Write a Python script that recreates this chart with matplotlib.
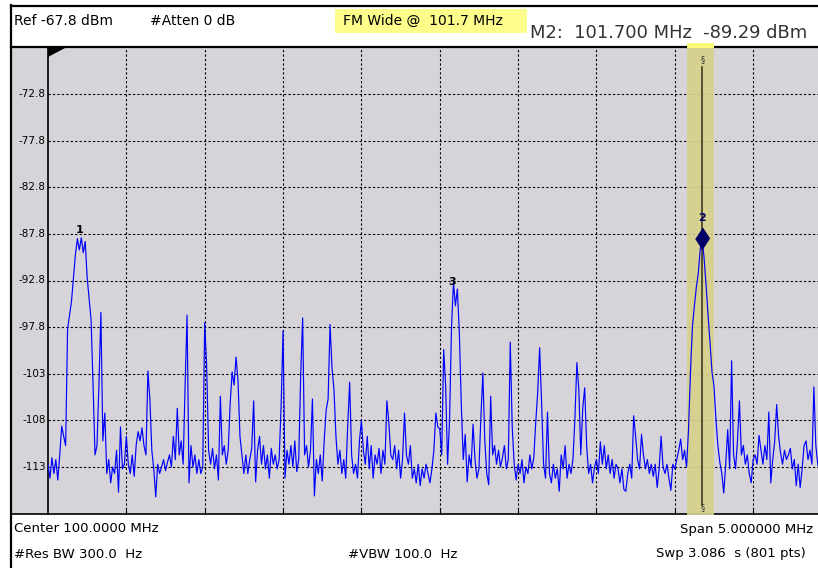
import numpy as np
import matplotlib
matplotlib.use("Agg")
import matplotlib.pyplot as plt
import matplotlib.transforms as mtransforms
from matplotlib.patches import Rectangle, Polygon

plt.rcParams['font.family'] = ['DejaVu Sans']

# analyzer settings
center_mhz = 100.0
span_mhz = 5.0
ref_dbm = -67.8
db_per_div = 5.0
n_div = 10

# trace, 401 points across the span
trace_dbm = [
    -112.5, -114.0, -111.8, -113.5, -112.0, -114.2, -111.5, -108.4, -109.5, -110.5,
    -98.0, -96.5, -95.0, -92.5, -90.0, -88.3, -89.5, -88.2, -89.8, -88.6,
    -92.5, -94.8, -97.0, -104.0, -111.5, -110.5, -104.0, -96.2, -110.0, -107.0,
    -113.5, -112.0, -114.5, -112.8, -113.5, -111.0, -115.5, -108.5, -113.0, -112.5,
    -109.5, -112.5, -113.5, -111.5, -113.8, -110.5, -109.0, -110.0, -108.6, -110.5,
    -111.5, -102.5, -105.5, -111.0, -113.0, -116.0, -112.5, -113.5, -112.8, -112.0,
    -113.2, -112.3, -111.5, -112.8, -109.5, -112.0, -106.5, -111.5, -110.0, -112.5,
    -104.0, -96.5, -114.5, -110.5, -112.8, -111.5, -113.5, -112.0, -113.5, -112.8,
    -97.3, -102.0, -111.0, -112.5, -110.8, -113.0, -111.5, -114.2, -105.2, -111.5,
    -110.5, -112.5, -111.0, -106.0, -102.6, -104.0, -101.0, -103.5, -109.5, -111.5,
    -113.5, -111.5, -113.5, -112.0, -110.8, -105.7, -114.4, -111.0, -109.5, -112.5,
    -110.5, -113.0, -111.5, -114.0, -110.8, -112.5, -111.5, -113.0, -112.0, -106.3,
    -98.2, -114.0, -111.0, -112.5, -110.5, -112.8, -110.0, -113.3, -112.0, -103.0,
    -96.8, -111.5, -110.5, -112.8, -111.0, -105.5, -115.9, -112.0, -113.5, -111.5,
    -114.3, -110.0, -106.7, -105.5, -97.5, -102.2, -104.5, -109.5, -112.5, -111.0,
    -113.5, -112.0, -114.0, -108.4, -103.7, -111.5, -113.5, -112.5, -114.0, -110.0,
    -107.8, -111.0, -112.5, -109.5, -113.0, -110.5, -114.0, -111.5, -112.5, -110.8,
    -113.5, -111.0, -112.5, -105.7, -108.0, -111.5, -112.0, -110.5, -113.0, -111.0,
    -114.0, -112.0, -107.0, -111.5, -112.5, -110.5, -114.0, -113.0, -114.5, -112.5,
    -114.8, -113.0, -114.0, -112.5, -113.5, -114.5, -113.0, -111.0, -107.0, -108.5,
    -108.7, -111.5, -100.2, -104.0, -112.5, -107.8, -97.8, -93.0, -95.5, -93.7,
    -98.4, -106.1, -112.0, -109.3, -114.4, -111.5, -112.8, -108.2, -112.0, -114.0,
    -113.0, -107.5, -102.7, -110.0, -113.5, -114.7, -105.2, -111.5, -110.5, -112.5,
    -111.0, -112.8, -111.8, -110.5, -113.0, -112.0, -99.4, -108.5, -112.5, -114.2,
    -112.5, -113.5, -112.0, -114.5, -112.8, -113.5, -111.5, -113.0, -111.8, -108.0,
    -104.8, -100.0, -106.0, -112.5, -114.0, -106.9, -113.5, -114.5, -112.5, -114.0,
    -113.0, -115.4, -111.5, -113.0, -110.5, -114.0, -112.5, -113.5, -112.0, -107.6,
    -101.6, -104.5, -111.5, -106.5, -104.3, -110.5, -113.5, -112.5, -114.5, -112.8,
    -112.0, -113.5, -110.1, -112.5, -110.5, -113.0, -111.5, -113.5, -112.0, -114.0,
    -112.5, -113.0, -114.5, -113.0, -115.2, -115.4, -113.5, -112.5, -114.0, -107.3,
    -109.5, -112.0, -113.0, -109.3, -111.5, -113.0, -112.0, -113.5, -112.5, -113.8,
    -112.5, -115.0, -113.0, -109.5, -112.8, -113.5, -112.5, -114.0, -115.3, -112.5,
    -113.0, -112.0, -111.0, -109.8, -112.0, -111.0, -112.8, -108.8, -102.6, -97.7,
    -95.5, -93.5, -92.0, -89.4, -88.3, -90.5, -93.4, -96.6, -99.5, -102.6,
    -104.1, -107.7, -110.5, -112.3, -113.5, -115.6, -112.5, -108.8, -113.0, -101.4,
    -111.5, -113.0, -110.0, -105.7, -111.5, -110.5, -112.5, -111.5, -113.5, -114.5,
    -112.0, -111.5, -112.5, -109.4, -111.0, -112.5, -110.5, -112.0, -106.9, -114.5,
    -112.0, -110.0, -106.1, -109.5, -111.3, -112.5, -111.0, -112.0, -111.5, -110.8,
    -113.0, -112.0, -114.8, -112.5, -115.0, -113.0, -110.5, -110.0, -112.0, -111.0,
    -112.5, -104.2, -110.5, -112.5, -113.5, -111.5, -112.8, -114.0, -112.0, -113.0,
    -112.5,
]

marker_names = ['1', '2', '3']
marker_freq = [97.70, 101.675, 100.078]
marker_dbm = [-88.3, -88.2, -93.0]

ytick_vals = [-72.8, -77.8, -82.8, -87.8, -92.8, -97.8, -102.8, -107.8, -112.8]
ytick_labels = ['-72.8', '-77.8', '-82.8', '-87.8', '-92.8', '-97.8', '-103', '-108', '-113']

header_left = ['Ref -67.8 dBm', '#Atten 0 dB']
header_title = 'FM Wide @  101.7 MHz'
header_marker = 'M2:  101.700 MHz  -89.29 dBm'
footer_rows = [('Center 100.0000 MHz', 'Span 5.000000 MHz'),
               ('#Res BW 300.0  Hz', 'Swp 3.086  s (801 pts)')]
footer_mid = '#VBW 100.0  Hz'

f_start = center_mhz - span_mhz / 2
f_stop = center_mhz + span_mhz / 2
freqs = np.linspace(f_start, f_stop, len(trace_dbm))

W, H = 818, 568
fig = plt.figure(figsize=(W / 100, H / 100), dpi=100)
fig.patch.set_facecolor('white')

# background layer in pixel coordinates
bg = fig.add_axes([0, 0, 1, 1])
bg.set_xlim(0, W)
bg.set_ylim(H, 0)
bg.axis('off')
gray = '#d6d4d8'
bg.add_patch(Rectangle((12, 47), W - 12, 466.5, facecolor=gray, edgecolor='none'))
bg.plot([11, W], [5.5, 5.5], color='black', lw=1.6)
bg.plot([11, 11], [5, H], color='black', lw=1.6)
bg.plot([11, W], [46.5, 46.5], color='black', lw=1.6)
bg.plot([11, W], [513.8, 513.8], color='black', lw=1.2)

hs = 10
bg.text(14, 21, header_left[0], fontsize=hs, va='center', ha='left')
bg.text(150, 21, header_left[1], fontsize=hs, va='center', ha='left')
bg.add_patch(Rectangle((335, 9), 192, 24, facecolor='#fdfd8c', edgecolor='none'))
bg.text(343, 21, header_title, fontsize=hs, va='center', ha='left')
bg.text(530, 33, header_marker, fontsize=12.9, va='center', ha='left', color='#333333')

fs = 9.5
bg.text(14, 529, footer_rows[0][0], fontsize=fs, va='center', ha='left')
bg.text(680, 529, footer_rows[0][1], fontsize=fs, va='center', ha='left')
bg.text(14, 554, footer_rows[1][0], fontsize=fs, va='center', ha='left')
bg.text(348, 554, footer_mid, fontsize=fs, va='center', ha='left')
bg.text(656, 554, footer_rows[1][1], fontsize=fs, va='center', ha='left')

# trace area
ax_left, ax_top, ax_w, ax_h = 48, 47.7, 783.5, 465.9
ax = fig.add_axes([ax_left / W, (H - ax_top - ax_h) / H, ax_w / W, ax_h / H])
ax.set_facecolor('none')
ax.set_xlim(f_start, f_stop)
ax.set_ylim(ref_dbm - n_div * db_per_div, ref_dbm)

for s in ['top', 'right', 'bottom']:
    ax.spines[s].set_visible(False)
ax.spines['left'].set_color('black')
ax.spines['left'].set_linewidth(1.2)

div_f = [f_start + k * span_mhz / n_div for k in range(1, n_div)]
ax.set_xticks(div_f)
ax.set_xticklabels([])
ax.tick_params(axis='x', direction='in', length=4, width=0.8, color='black')
ax.set_yticks(ytick_vals)
ax.set_yticklabels(ytick_labels, fontsize=7.5)
ax.tick_params(axis='y', length=0, pad=1.5)
off = mtransforms.ScaledTranslation(0, -2 / 72, fig.dpi_scale_trans)
for lab in ax.get_yticklabels():
    lab.set_verticalalignment('baseline')
    lab.set_transform(lab.get_transform() + off)

for f in div_f:
    ax.axvline(f, color='black', lw=0.8, ls=(0, (2, 2)), zorder=1)
for v in ytick_vals:
    ax.axhline(v, color='black', lw=0.8, ls=(0, (2, 2)), zorder=1)

# marker 2 highlight band and line
m2f = marker_freq[1]
band_lo, band_hi = 101.578, 101.750
ax.axvspan(band_lo, band_hi, ymin=-0.004, ymax=1.0, color='#d6d08a', alpha=0.9,
           zorder=2, clip_on=False, lw=0)
ax.axvspan(band_lo, band_hi, ymin=1.0, ymax=1.01, color='#f8f87a', zorder=2,
           clip_on=False, lw=0)
ax.axvline(m2f, ymin=0.018, ymax=0.958, color='#2e2e14', lw=1.1, zorder=3)
ax.text(m2f, 0.975, '§', transform=ax.get_xaxis_transform(), fontsize=6,
        ha='center', va='center', color='#333333', zorder=4)
ax.text(m2f, 0.012, '§', transform=ax.get_xaxis_transform(), fontsize=6,
        ha='center', va='center', color='#333333', zorder=4, clip_on=False)

ax.plot(freqs, trace_dbm, color='#0000ff', lw=0.85, zorder=5)

# markers
for name, f, v in zip(marker_names, marker_freq, marker_dbm):
    if name == '2':
        ax.plot([f], [v], marker=[(0, 1), (0.65, 0), (0, -1), (-0.65, 0)],
                markersize=15, color='#000066', zorder=6)
        ax.annotate(name, (f, v), xytext=(0, 11), textcoords='offset points',
                    ha='center', va='bottom', fontsize=8, fontweight='bold',
                    color='#000066', zorder=7)
    else:
        dy = 3 if name == '1' else -3
        ax.annotate(name, (f, v), xytext=(0, dy), textcoords='offset points',
                    ha='center', va='bottom', fontsize=8, fontweight='bold',
                    color='black', zorder=7)

bg.set_zorder(0)
ax.set_zorder(1)

# corner wedge on top of everything
wedge_ax = fig.add_axes([0, 0, 1, 1], facecolor='none')
wedge_ax.set_xlim(0, W)
wedge_ax.set_ylim(H, 0)
wedge_ax.axis('off')
wedge_ax.add_patch(Polygon([(48, 48), (65, 48), (48, 57)], closed=True,
                           facecolor='black', edgecolor='none'))
wedge_ax.set_zorder(2)

fig.savefig('out.png', dpi=100)
